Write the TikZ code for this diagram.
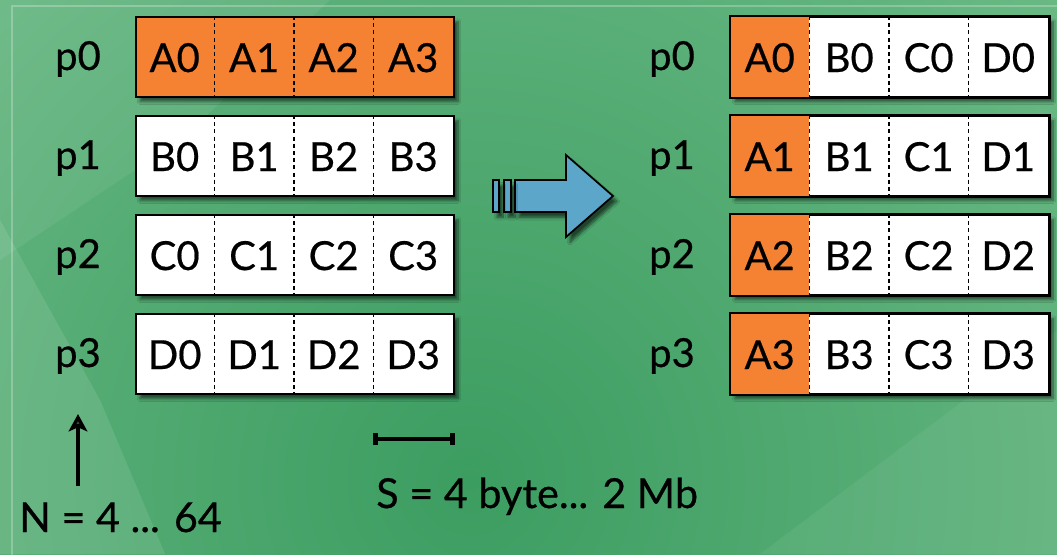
\documentclass[tikz,border=0pt]{standalone}
\usepackage{fontspec}
\setmainfont{Lato}[FakeBold=0.5]
\usepackage{xcolor}
\definecolor{slideorange}{RGB}{245,130,50}
\definecolor{arrowblue}{RGB}{92,166,202}
\definecolor{greenlight}{RGB}{114,190,138}
\definecolor{greendark}{RGB}{60,157,97}
\usetikzlibrary{arrows.meta,positioning,calc,shadows.blur}
\tikzset{
  procbox/.style={draw=black,line width=1.6pt,fill=white,inner sep=0pt,
    minimum width=238.5pt,minimum height=60pt,
    blur shadow={shadow xshift=3pt,shadow yshift=-3.5pt,shadow blur steps=8,shadow opacity=55}},
  boxline/.style={draw=black,line width=1.6pt},
  divider/.style={black,line width=1.4pt,dash pattern=on 3pt off 2.4pt},
  celltext/.style={anchor=base,inner sep=0pt,font=\fontsize{30}{32}\selectfont},
  proclabel/.style={anchor=base,inner sep=0pt,font=\fontsize{30}{32}\selectfont},
  notetext/.style={anchor=base west,inner sep=0pt,font=\fontsize{31}{33}\selectfont},
  moveshape/.style={draw=black,line width=1.3pt,fill=arrowblue,line join=miter,
    blur shadow={shadow xshift=3pt,shadow yshift=-4pt,shadow blur steps=8,shadow opacity=60}}
}

\begin{document}
\begin{tikzpicture}[x=0.75pt,y=-0.75pt]
\useasboundingbox (0,0) rectangle (1057,554);
% background
\begin{scope}
\clip (0,0) rectangle (1057,554);
\shade[inner color=greendark,outer color=greenlight] (470,480) circle (900);
\fill[white,opacity=0.10] (0,220) -- (100,400) -- (165,554) -- (0,554) -- cycle;
\fill[white,opacity=0.07] (0,0) -- (330,0) -- (180,140) -- (0,260) -- cycle;
\fill[white,opacity=0.06] (760,554) -- (1057,330) -- (1057,554) -- cycle;
\draw[white,opacity=0.25,line width=0.8pt] (12,600) -- (12,6) -- (1100,6);
\end{scope}

% processes before the exchange
\foreach \r/\rl/\rfill in {0/A/slideorange,1/B/white,2/C/white,3/D/white}{
  \node[procbox,fill=\rfill] (L\r) at (295,{57+99*\r}) {};
  \node[proclabel] (lp\r) at (78,{70+99*\r}) {p\r};
  \foreach \c in {1,2,3}
    \draw[divider] ($(L\r.north west)+(79.5*\c,0)$) -- ($(L\r.south west)+(79.5*\c,0)$);
  \foreach \c in {0,1,2,3}
    \node[celltext] (L\r-\c) at ($(L\r.west)+({39.75+79.5*\c},15)$) {\rl\c};
}

% processes after the exchange
\foreach \r in {0,1,2,3}{
  \node[procbox] (R\r) at (890,{57+99*\r}) {};
  \fill[slideorange] (R\r.north west) rectangle ($(R\r.south west)+(79.5,0)$);
  \draw[boxline] (R\r.north west) rectangle (R\r.south east);
  \node[proclabel] (rp\r) at (672,{70+99*\r}) {p\r};
  \foreach \c in {1,2,3}
    \draw[divider] ($(R\r.north west)+(79.5*\c,0)$) -- ($(R\r.south west)+(79.5*\c,0)$);
  \foreach \c/\cl in {0/A,1/B,2/C,3/D}
    \node[celltext] (R\r-\c) at ($(R\r.west)+({39.75+79.5*\c},15)$) {\cl\r};
}

% block arrow
\draw[moveshape] (515,180) -- (566,180) -- (566,155) -- (613,196) -- (566,237)
  -- (566,212) -- (515,212) -- cycle;
\draw[moveshape] (504,180) rectangle (511,212);
\draw[moveshape] (493,180) rectangle (499,212);

% number of processes
\node[notetext] (nlabel) at (19,532) {N = 4 ... 64};
\coordinate (nbase) at (78,486);
\coordinate (ntip) at (78,414);
\draw[line width=3.2pt,-{Stealth[length=13pt,width=14pt,inset=3pt]}] (nbase) -- (ntip);

% message size
\coordinate (sleft) at (373,439);
\coordinate (sright) at (455,439);
\draw[line width=3.4pt,{Bar[width=9pt]}-{Bar[width=9pt]}] (sleft) -- (sright);
\node[notetext] (slabel) at (376,508) {S = 4 byte... 2 Mb};
\end{tikzpicture}
\end{document}
